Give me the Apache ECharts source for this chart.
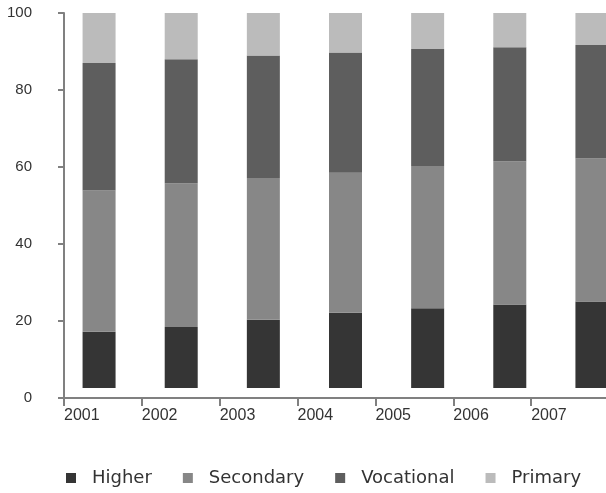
<!DOCTYPE html>
<html>
<head>
<meta charset="utf-8">
<script src="https://cdn.jsdelivr.net/npm/echarts@6/dist/echarts.min.js"></script>
<style>
  html, body { margin: 0; padding: 0; background: #fff; }
  #chart { width: 606px; height: 493px; }
</style>
</head>
<body>
<div id="chart"></div>
<script>
// 数据
var years = ['2001', '2002', '2003', '2004', '2005', '2006', '2007'];
var axisYears = ['2001', '2002', '2003', '2004', '2005', '2006', '2007', ''];
var higher = [15.0, 16.3, 18.2, 20.1, 21.3, 22.3, 23.1];
var secondary = [37.7, 38.3, 37.8, 37.3, 37.9, 38.2, 38.1];
var vocational = [34.0, 33.1, 32.7, 32.1, 31.2, 30.4, 30.3];
var primary = [13.3, 12.3, 11.3, 10.5, 9.6, 9.1, 8.5];

var axisColor = '#808080';
var labelFont = 'Liberation Sans';

var chart = echarts.init(document.getElementById('chart'));

function barSeries(name, data, color) {
  return {
    name: name,
    type: 'bar',
    stack: 'total',
    xAxisIndex: 1,
    yAxisIndex: 1,
    barWidth: 33,
    itemStyle: { color: color },
    data: data
  };
}

chart.setOption({
  animation: false,
  legend: {
    left: 61,
    top: 464,
    icon: 'rect',
    itemWidth: 10,
    itemHeight: 10,
    itemGap: 31,
    textStyle: {
      fontFamily: 'DejaVu Sans',
      fontSize: 18,
      color: '#333',
      padding: [0, 0, 0, 11]
    },
    data: ['Higher', 'Secondary', 'Vocational', 'Primary']
  },
  grid: [
    // 坐标轴
    { left: 64, top: 13, width: 545, height: 385, outerBoundsMode: 'none' },
    // 柱子
    { left: 58, top: 13, width: 575, height: 375, outerBoundsMode: 'none' }
  ],
  xAxis: [
    {
      type: 'category',
      gridIndex: 0,
      boundaryGap: false,
      data: axisYears,
      axisLine: { lineStyle: { color: axisColor, width: 2 } },
      axisTick: { length: 8, lineStyle: { color: axisColor, width: 2 } },
      axisLabel: {
        interval: 0,
        align: 'left',
        margin: 10,
        fontFamily: labelFont,
        fontSize: 16,
        color: '#333'
      },
      splitLine: { show: false }
    },
    {
      type: 'category',
      gridIndex: 1,
      data: years,
      show: false
    }
  ],
  yAxis: [
    {
      type: 'value',
      gridIndex: 0,
      min: 0,
      max: 100,
      interval: 20,
      axisLine: { show: true, lineStyle: { color: axisColor, width: 2 } },
      axisTick: { show: true, length: 6, lineStyle: { color: axisColor, width: 2 } },
      axisLabel: {
        margin: 32,
        fontFamily: labelFont,
        fontSize: 15,
        color: '#333'
      },
      splitLine: { show: false }
    },
    {
      type: 'value',
      gridIndex: 1,
      min: 0,
      max: 100,
      show: false,
      splitLine: { show: false }
    }
  ],
  series: [
    barSeries('Higher', higher, '#353535'),
    barSeries('Secondary', secondary, '#878787'),
    barSeries('Vocational', vocational, '#5e5e5e'),
    barSeries('Primary', primary, '#bbbbbb')
  ]
});
</script>
</body>
</html>
